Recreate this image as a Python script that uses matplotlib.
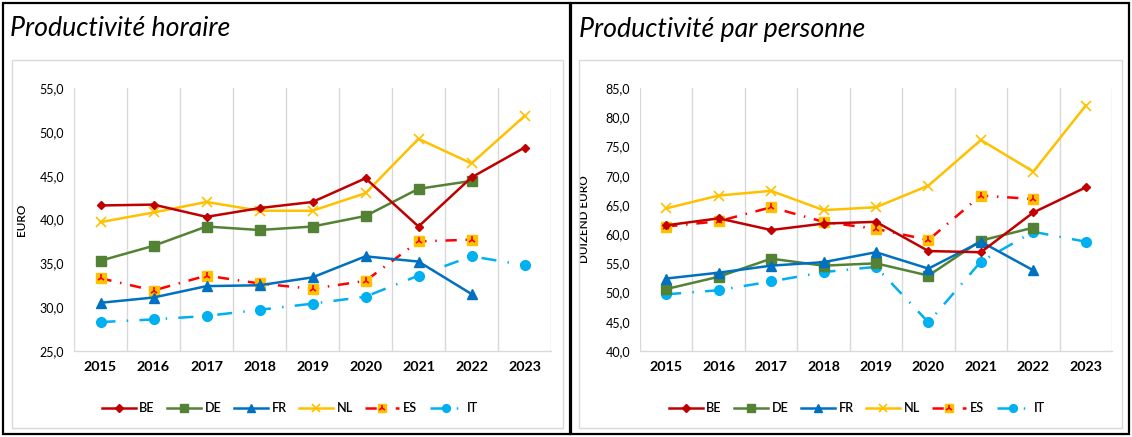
import matplotlib
matplotlib.use("Agg")
import matplotlib.pyplot as plt
from matplotlib.patches import Rectangle
import numpy as np

plt.rcParams['font.family'] = ['Lato', 'DejaVu Sans']

years = ["2015", "2016", "2017", "2018", "2019", "2020", "2021", "2022", "2023"]
countries = ["BE", "DE", "FR", "NL", "ES", "IT"]

# Productivité horaire (EURO)
hour_BE = [41.6, 41.7, 40.3, 41.3, 42.0, 44.7, 39.2, 44.8, 48.2]
hour_DE = [35.3, 37.0, 39.2, 38.8, 39.2, 40.4, 43.5, 44.4, None]
hour_FR = [30.5, 31.1, 32.4, 32.5, 33.4, 35.8, 35.2, 31.5, None]
hour_NL = [39.7, 40.8, 42.0, 41.0, 41.0, 43.0, 49.2, 46.4, 51.8]
hour_ES = [33.3, 31.9, 33.6, 32.7, 32.1, 33.0, 37.5, 37.7, None]
hour_IT = [28.3, 28.6, 29.0, 29.7, 30.4, 31.2, 33.6, 35.8, 34.8]

# Productivité par personne (DUIZEND EURO)
pers_BE = [61.5, 62.7, 60.7, 61.8, 62.1, 57.1, 56.9, 63.7, 68.0]
pers_DE = [50.6, 52.7, 55.8, 54.6, 55.0, 52.9, 58.9, 61.1, None]
pers_FR = [52.4, 53.4, 54.6, 55.2, 56.9, 54.1, 58.7, 53.8, None]
pers_NL = [64.4, 66.6, 67.4, 64.1, 64.6, 68.3, 76.1, 70.7, 82.0]
pers_ES = [61.3, 62.2, 64.6, 62.1, 60.9, 59.0, 66.6, 66.0, None]
pers_IT = [49.7, 50.4, 51.9, 53.5, 54.4, 44.9, 55.3, 60.4, 58.7]

hour_yticks = [25, 30, 35, 40, 45, 50, 55]
pers_yticks = [40, 45, 50, 55, 60, 65, 70, 75, 80, 85]

colors = {"BE": "#C00000", "DE": "#548235", "FR": "#0070C0",
          "NL": "#FFC000", "ES": "#FF0000", "IT": "#00B0F0"}

W, H = 1132, 437
fig = plt.figure(figsize=(W / 100, H / 100), dpi=100)


def fx(px):
    return px / W


def fy(py):
    return 1 - py / H


# panel frames
for (x0, x1) in [(3, 570), (571, 1129)]:
    fig.patches.append(Rectangle((fx(x0), fy(434)), fx(x1 - x0), (434 - 3) / H,
                                 transform=fig.transFigure, fill=False,
                                 edgecolor='black', linewidth=1.6, zorder=0))
for (x0, x1) in [(12, 563), (579, 1122)]:
    fig.patches.append(Rectangle((fx(x0), fy(428)), fx(x1 - x0), (428 - 60) / H,
                                 transform=fig.transFigure, fill=False,
                                 edgecolor='#D9D9D9', linewidth=1.0, zorder=0))


def to_arr(v):
    return np.array([np.nan if a is None else a for a in v], dtype=float)


def draw(ax, data, yticks, ylabel):
    x = np.arange(len(years))
    lw = 1.8
    h = {}
    h["BE"], = ax.plot(x, to_arr(data["BE"]), color=colors["BE"], lw=lw,
                       marker='D', ms=4.5, mec=colors["BE"], zorder=5)
    h["DE"], = ax.plot(x, to_arr(data["DE"]), color=colors["DE"], lw=lw,
                       marker='s', ms=7, mec=colors["DE"], zorder=4)
    h["FR"], = ax.plot(x, to_arr(data["FR"]), color=colors["FR"], lw=lw,
                       marker='^', ms=7, mec=colors["FR"], zorder=4)
    h["NL"], = ax.plot(x, to_arr(data["NL"]), color=colors["NL"], lw=lw,
                       marker='x', ms=7, mew=1.2, zorder=4)
    es, = ax.plot(x, to_arr(data["ES"]), color=colors["ES"], lw=lw,
                  linestyle=(0, (4.5, 3.5, 0.6, 3.5)),
                  marker='s', ms=6.5, mfc='#FFC000', mec='#FFC000', zorder=3)
    es2, = ax.plot(x, to_arr(data["ES"]), linestyle='none', marker='2', ms=6,
                   mew=1.2, color=colors["ES"], zorder=3.5)
    h["ES"] = (es, es2)
    h["IT"], = ax.plot(x, to_arr(data["IT"]), color=colors["IT"], lw=lw,
                       linestyle=(0, (6, 4.5, 0.6, 4.5)),
                       marker='o', ms=7, mec=colors["IT"], zorder=3)
    ax.set_xlim(-0.5, len(years) - 0.5)
    ax.set_ylim(yticks[0], yticks[-1])
    ax.set_yticks(yticks)
    ax.set_yticklabels([f"{t:.1f}".replace('.', ',') for t in yticks], fontsize=9)
    ax.set_xticks(x)
    ax.set_xticklabels(years, fontsize=10.3, fontweight='bold')
    ax.set_xticks(np.arange(len(years) + 1) - 0.5, minor=True)
    ax.grid(True, which='minor', axis='x', color='#D9D9D9', lw=1.0)
    ax.grid(False, which='major')
    ax.tick_params(axis='both', which='both', length=0)
    ax.tick_params(axis='x', pad=7)
    ax.tick_params(axis='y', pad=7)
    for s in ['top', 'right', 'left']:
        ax.spines[s].set_visible(False)
    ax.spines['bottom'].set_color('#D9D9D9')
    ax.spines['bottom'].set_linewidth(1.0)
    ax.set_ylabel(ylabel, fontsize=8.5, fontweight='semibold', labelpad=6)
    return h


ax1 = fig.add_axes([fx(74), fy(351), fx(551 - 74), (351 - 88) / H])
ax2 = fig.add_axes([fx(640), fy(351), fx(1112 - 640), (351 - 88) / H])

h1 = draw(ax1, {"BE": hour_BE, "DE": hour_DE, "FR": hour_FR, "NL": hour_NL,
                "ES": hour_ES, "IT": hour_IT}, hour_yticks, "EURO")
h2 = draw(ax2, {"BE": pers_BE, "DE": pers_DE, "FR": pers_FR, "NL": pers_NL,
                "ES": pers_ES, "IT": pers_IT}, pers_yticks, "DUIZEND EURO")
ax1.yaxis.set_label_coords(-0.098, 0.5)
ax2.yaxis.set_label_coords(-0.105, 0.5)

for h, cx in [(h1, 290), (h2, 857)]:
    fig.legend([h[c] for c in countries], countries, loc='center',
               bbox_to_anchor=(fx(cx), fy(408)), ncol=6, frameon=False,
               prop={'size': 9, 'weight': 'semibold'}, handlelength=2.7,
               handletextpad=0.3, columnspacing=1.0, markerscale=0.8)

fig.text(fx(10), fy(29), "Productivité horaire", fontsize=19.3, fontstyle='italic',
         va='center', ha='left')
fig.text(fx(579), fy(29), "Productivité par personne", fontsize=19.3,
         fontstyle='italic', va='center', ha='left')

fig.savefig("out.png", dpi=100)
